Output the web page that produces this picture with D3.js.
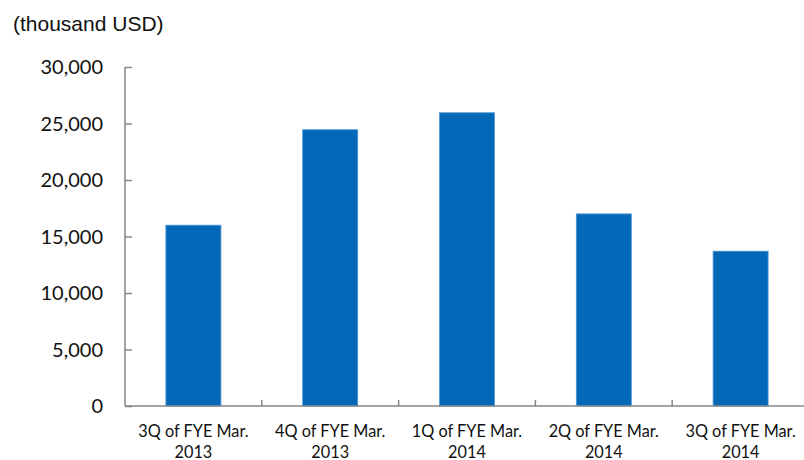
<!DOCTYPE html>
<html>
<head>
<meta charset="utf-8">
<script src="https://cdn.jsdelivr.net/npm/d3@7"></script>
<style>
  html, body { margin: 0; padding: 0; background: #fff; }
  svg { display: block; }
</style>
</head>
<body>
<svg id="chart" width="804" height="460"></svg>
<script>
const categories = [
  ["3Q of FYE Mar.", "2013"],
  ["4Q of FYE Mar.", "2013"],
  ["1Q of FYE Mar.", "2014"],
  ["2Q of FYE Mar.", "2014"],
  ["3Q of FYE Mar.", "2014"]
];
const values = [16000, 24450, 25950, 17000, 13700];
const yTicks = [0, 5000, 10000, 15000, 20000, 25000, 30000];
const unitLabel = "(thousand USD)";

(function () {
const svg = d3.select("#chart");
const mLeft = 125, mRight = 809, mTop = 67, mBottom = 406;
const tickFont = "Lato, 'Noto Sans', sans-serif";
const axisColor = "#868686";

const pIn = 1 - 55 / 136.8;
const x = d3.scaleBand()
  .domain(d3.range(categories.length))
  .range([mLeft, mRight])
  .paddingInner(pIn).paddingOuter(pIn / 2);
const step = x.step();
const y = d3.scaleLinear().domain([0, 30000]).range([mBottom, mTop]);

// bars
svg.append("g").selectAll("rect")
  .data(values)
  .join("rect")
  .attr("x", (d, i) => x(i))
  .attr("width", x.bandwidth())
  .attr("y", d => y(d))
  .attr("height", d => mBottom - y(d))
  .attr("fill", "#0268b7")
  .attr("stroke", "#4f95d2")
  .attr("stroke-width", 0.8);

// y axis
const yAxis = svg.append("g").attr("transform", `translate(${mLeft},0)`)
  .call(d3.axisRight(y).tickValues(yTicks).tickSize(7).tickFormat(""));
yAxis.select(".domain").remove();
yAxis.selectAll(".tick line").attr("stroke", axisColor).attr("stroke-width", 1.5);
yAxis.append("line").attr("x1", 0).attr("x2", 0).attr("y1", mTop).attr("y2", mBottom)
  .attr("stroke", axisColor).attr("stroke-width", 1.5);

svg.append("g").selectAll("text")
  .data(yTicks)
  .join("text")
  .attr("x", 103)
  .attr("y", d => y(d))
  .attr("dy", "0.36em")
  .attr("text-anchor", "end")
  .attr("font-family", tickFont)
  .attr("font-size", 20)
  .attr("fill", "#111")
  .text(d => d3.format(",")(d));

// x axis
const xTickPos = d3.range(categories.length).map(i => x(i) - x.paddingInner() * step / 2 + step);
svg.append("line").attr("x1", mLeft).attr("x2", mRight).attr("y1", mBottom).attr("y2", mBottom)
  .attr("stroke", axisColor).attr("stroke-width", 1.5);
svg.append("g").selectAll("line")
  .data(xTickPos)
  .join("line")
  .attr("x1", d => d).attr("x2", d => d)
  .attr("y1", mBottom).attr("y2", mBottom - 6)
  .attr("stroke", axisColor).attr("stroke-width", 1.5);

const cx = i => x(i) + x.bandwidth() / 2;
const xl = svg.append("g").selectAll("text")
  .data(categories)
  .join("text")
  .attr("text-anchor", "middle")
  .attr("font-family", tickFont)
  .attr("font-size", 16.3)
  .attr("fill", "#111");
xl.append("tspan")
  .attr("x", (d, i) => cx(i))
  .attr("y", 437)
  .text(d => d[0]);
xl.append("tspan")
  .attr("x", (d, i) => cx(i))
  .attr("y", 458)
  .text(d => d[1]);

// unit label
svg.append("text")
  .attr("x", 13).attr("y", 31)
  .attr("font-family", "'Liberation Sans', Arial, sans-serif")
  .attr("font-size", 21)
  .attr("fill", "#111")
  .text(unitLabel);
})();
</script>
</body>
</html>
